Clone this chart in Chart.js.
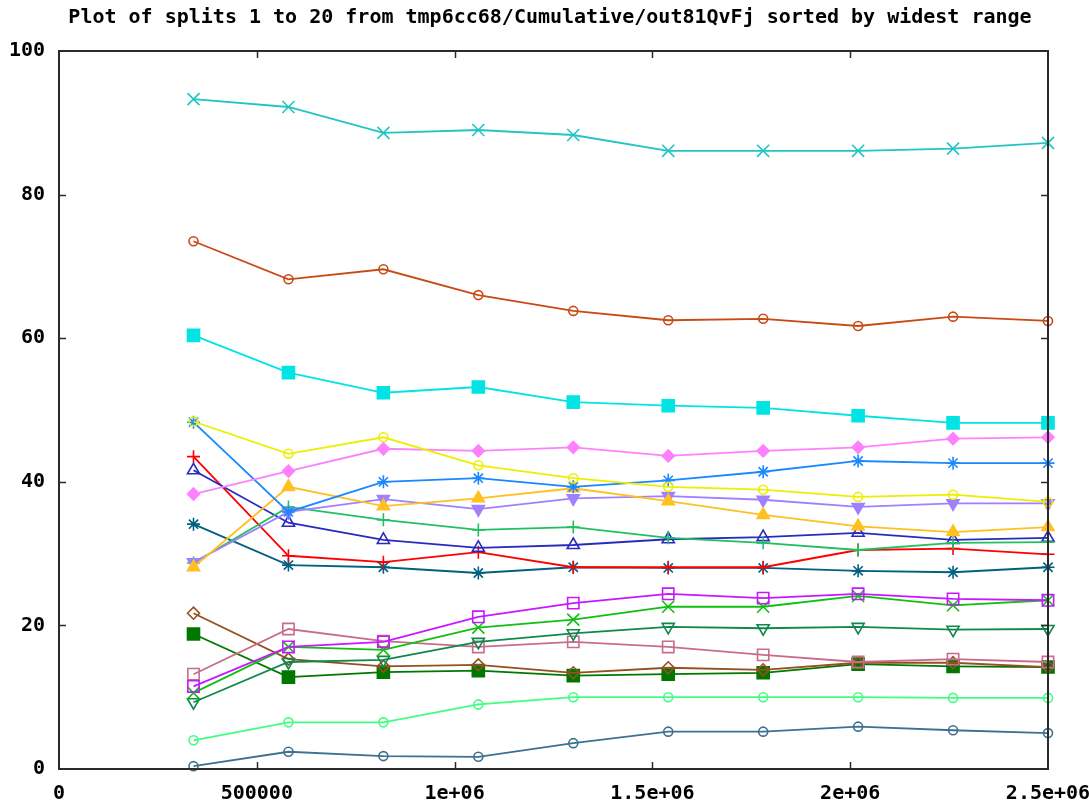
<!DOCTYPE html>
<html>
<head>
<meta charset="utf-8">
<script src="https://cdn.jsdelivr.net/npm/chart.js@4/dist/chart.umd.min.js"></script>
<style>
  html, body { margin: 0; padding: 0; background: #fff; overflow: hidden; }
  #wrap { position: relative; width: 1120px; height: 807px; }
</style>
</head>
<body>
<div id="wrap"><canvas id="c"></canvas></div>
<script>
// Sample positions shared by every split
const xValues = [340000, 580000, 820000, 1060000, 1300000, 1540000, 1780000, 2020000, 2260000, 2500000];

// Axis tick labels
const xTickLabels = ['0', '500000', '1e+06', '1.5e+06', '2e+06', '2.5e+06'];
const yTickLabels = ['0', '20', '40', '60', '80', '100'];

// One array per split
const s01 = [93.3, 92.2, 88.6, 89.0, 88.3, 86.1, 86.1, 86.1, 86.4, 87.2];
const s02 = [73.5, 68.2, 69.6, 66.0, 63.8, 62.5, 62.7, 61.7, 63.0, 62.4];
const s03 = [60.4, 55.2, 52.4, 53.2, 51.1, 50.6, 50.3, 49.2, 48.2, 48.2];
const s04 = [48.4, 43.9, 46.2, 42.3, 40.5, 39.3, 38.9, 37.9, 38.2, 37.2];
const s05 = [38.3, 41.5, 44.6, 44.3, 44.8, 43.6, 44.3, 44.8, 46.0, 46.2];
const s06 = [48.3, 35.8, 40.0, 40.5, 39.3, 40.2, 41.4, 42.9, 42.6, 42.6];
const s07 = [28.1, 39.3, 36.6, 37.7, 39.1, 37.3, 35.4, 33.8, 33.0, 33.7];
const s08 = [28.8, 35.8, 37.6, 36.2, 37.7, 38.0, 37.5, 36.5, 37.0, 37.0];
const s09 = [28.7, 36.5, 34.7, 33.3, 33.7, 32.2, 31.5, 30.5, 31.5, 31.6];
const s10 = [41.6, 34.3, 31.9, 30.8, 31.2, 32.0, 32.3, 32.9, 31.9, 32.2];
const s11 = [43.5, 29.7, 28.8, 30.2, 28.1, 28.1, 28.1, 30.5, 30.7, 29.9];
const s12 = [34.1, 28.4, 28.1, 27.3, 28.1, 28.0, 28.0, 27.6, 27.4, 28.1];
const s13 = [11.5, 17.0, 17.7, 21.2, 23.1, 24.4, 23.8, 24.4, 23.7, 23.5];
const s14 = [10.6, 17.0, 16.6, 19.7, 20.8, 22.6, 22.6, 24.1, 22.8, 23.5];
const s15 = [9.3, 14.9, 15.2, 17.7, 18.9, 19.8, 19.6, 19.8, 19.4, 19.5];
const s16 = [13.2, 19.5, 17.8, 17.0, 17.7, 17.0, 15.9, 14.9, 15.3, 14.9];
const s17 = [21.7, 15.3, 14.3, 14.5, 13.4, 14.1, 13.8, 14.8, 14.8, 14.2];
const s18 = [18.8, 12.8, 13.5, 13.7, 13.0, 13.2, 13.4, 14.6, 14.3, 14.2];
const s19 = [4.0, 6.5, 6.5, 9.0, 10.0, 10.0, 10.0, 10.0, 9.9, 9.9];
const s20 = [0.4, 2.4, 1.8, 1.7, 3.6, 5.2, 5.2, 5.9, 5.4, 5.0];

const splitNames = ['split 1', 'split 2', 'split 3', 'split 4', 'split 5', 'split 6', 'split 7',
  'split 8', 'split 9', 'split 10', 'split 11', 'split 12', 'split 13', 'split 14', 'split 15',
  'split 16', 'split 17', 'split 18', 'split 19', 'split 20'];
const splitValues = [s01, s02, s03, s04, s05, s06, s07, s08, s09, s10,
  s11, s12, s13, s14, s15, s16, s17, s18, s19, s20];

// Line colour and marker for each split
const splitStyles = [
  { color: '#22c4c4', marker: 'crossRot', radius: 8.5, filled: false, rot: 0 },
  { color: '#c84a14', marker: 'circle',   radius: 4.5, filled: false, rot: 0 },
  { color: '#00e4e4', marker: 'rect',     radius: 8.5, filled: true,  rot: 0 },
  { color: '#eeee00', marker: 'circle',   radius: 4.5, filled: false, rot: 0 },
  { color: '#ff80ff', marker: 'rectRot',  radius: 6,   filled: true,  rot: 0 },
  { color: '#1a88ff', marker: 'star',     radius: 6.5, filled: false, rot: 0 },
  { color: '#ffc020', marker: 'triangle', radius: 7,   filled: true,  rot: 0 },
  { color: '#a080ff', marker: 'triangle', radius: 7,   filled: true,  rot: 180 },
  { color: '#20c060', marker: 'cross',    radius: 6.5, filled: false, rot: 0 },
  { color: '#2a2ac0', marker: 'triangle', radius: 7,   filled: false, rot: 0 },
  { color: '#ff0000', marker: 'cross',    radius: 6.5, filled: false, rot: 0 },
  { color: '#006080', marker: 'star',     radius: 6.5, filled: false, rot: 0 },
  { color: '#c818ff', marker: 'rect',     radius: 8,   filled: false, rot: 0 },
  { color: '#10c010', marker: 'crossRot', radius: 8.5, filled: false, rot: 0 },
  { color: '#10884c', marker: 'triangle', radius: 7,   filled: false, rot: 180 },
  { color: '#c86c8c', marker: 'rect',     radius: 8,   filled: false, rot: 0 },
  { color: '#945020', marker: 'rectRot',  radius: 6,   filled: false, rot: 0 },
  { color: '#007800', marker: 'rect',     radius: 8.5, filled: true,  rot: 0 },
  { color: '#40ff80', marker: 'circle',   radius: 4.5, filled: false, rot: 0 },
  { color: '#3e7090', marker: 'circle',   radius: 4.5, filled: false, rot: 0 }
];

const datasets = splitValues.map((vals, i) => {
  const st = splitStyles[i];
  return {
    label: splitNames[i],
    data: vals.map((v, j) => ({ x: xValues[j], y: v })),
    borderColor: st.color,
    backgroundColor: st.color,
    borderWidth: 1.8,
    tension: 0,
    pointStyle: st.marker,
    pointRadius: st.radius,
    pointRotation: st.rot,
    pointBorderWidth: 1.6,
    pointBorderColor: st.color,
    pointBackgroundColor: st.filled ? st.color : 'rgba(255,255,255,0)',
    clip: false
  };
});

const FONT = { family: "'DejaVu Sans Mono', monospace", size: 20, weight: 'bold' };

// Box round the plot with short inward tick marks on all four sides
const framePlugin = {
  id: 'frame',
  afterDatasetsDraw(chart) {
    const { ctx, chartArea: a, scales } = chart;
    ctx.save();
    ctx.strokeStyle = '#2a2a2a';
    ctx.lineWidth = 2;
    ctx.strokeRect(a.left, a.top, a.right - a.left, a.bottom - a.top);
    ctx.lineWidth = 1.5;
    const len = 7;
    ctx.beginPath();
    scales.x.ticks.forEach(t => {
      const px = Math.round(scales.x.getPixelForValue(t.value)) + 0.5;
      if (px <= a.left + 1 || px >= a.right - 1) return;
      ctx.moveTo(px, a.bottom); ctx.lineTo(px, a.bottom - len);
      ctx.moveTo(px, a.top); ctx.lineTo(px, a.top + len);
    });
    scales.y.ticks.forEach(t => {
      const py = Math.round(scales.y.getPixelForValue(t.value)) + 0.5;
      if (py <= a.top + 1 || py >= a.bottom - 1) return;
      ctx.moveTo(a.left, py); ctx.lineTo(a.left + len, py);
      ctx.moveTo(a.right, py); ctx.lineTo(a.right - len, py);
    });
    ctx.stroke();
    ctx.restore();
  }
};

new Chart(document.getElementById('c'), {
  type: 'line',
  data: { datasets },
  plugins: [framePlugin],
  options: {
    responsive: true,
    maintainAspectRatio: false,
    animation: false,
    events: [],
    layout: { padding: { left: 0, right: 20, top: 0, bottom: 0 } },
    plugins: {
      legend: { display: false },
      tooltip: { enabled: false },
      title: {
        display: true,
        text: 'Plot of splits 1 to 20 from tmp6cc68/Cumulative/out81QvFj sorted by widest range',
        color: '#000',
        font: FONT,
        padding: { top: 6, bottom: 21 }
      }
    },
    scales: {
      x: {
        type: 'linear',
        min: 0,
        max: 2500000,
        afterFit(scale) { scale.height = 38; },
        grid: { display: true, drawOnChartArea: false, drawTicks: false },
        border: { display: false },
        ticks: {
          stepSize: 500000,
          autoSkip: false,
          maxRotation: 0,
          padding: 13,
          color: '#000',
          font: FONT,
          callback: (v, i) => xTickLabels[i]
        }
      },
      y: {
        min: 0,
        max: 100,
        afterFit(scale) { scale.width = 59; },
        grid: { display: true, drawOnChartArea: false, drawTicks: false },
        border: { display: false },
        ticks: {
          stepSize: 20,
          padding: 14,
          color: '#000',
          font: FONT,
          callback: (v, i) => yTickLabels[i]
        }
      },
      // Right-hand side of the frame; its ticks are drawn by the frame plugin
      yRight: {
        position: 'right',
        min: 0,
        max: 100,
        afterFit(scale) { scale.width = 52; },
        grid: { display: true, drawOnChartArea: false, drawTicks: false },
        border: { display: false },
        ticks: { display: false, stepSize: 20 }
      }
    }
  }
});
</script>
</body>
</html>
